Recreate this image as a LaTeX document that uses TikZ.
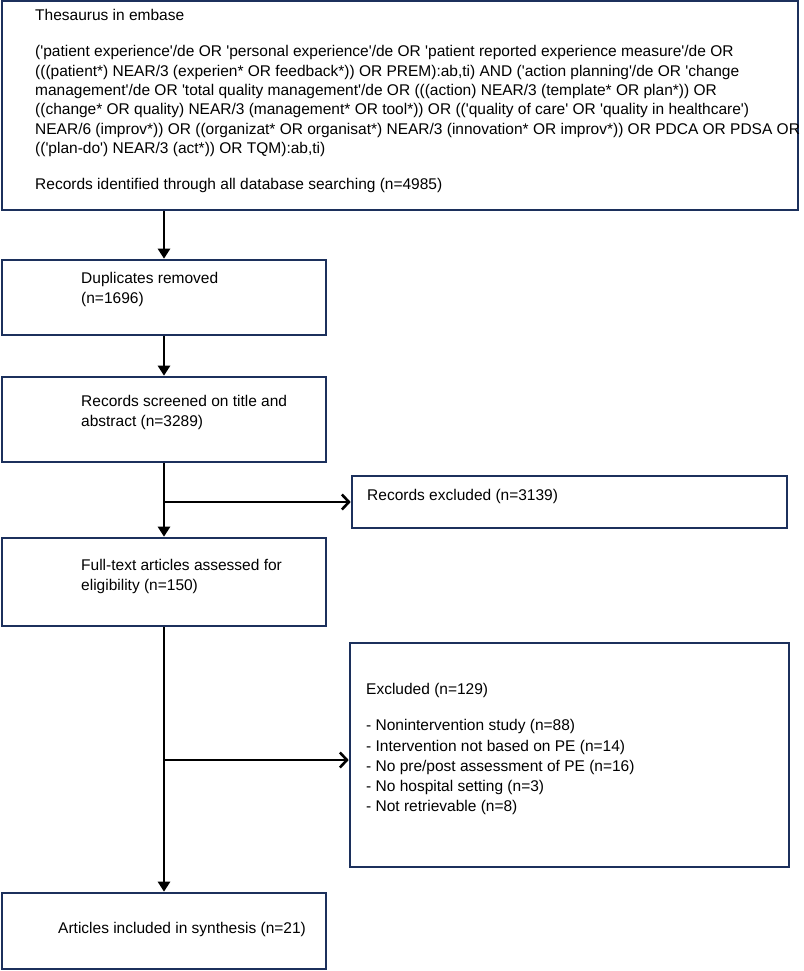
\documentclass[tikz,border=0pt]{standalone}
\usepackage{fontspec}
\setmainfont{Liberation Sans}[Ligatures=TeXOff]
\usetikzlibrary{arrows.meta}
\definecolor{boxblue}{RGB}{28,48,92}
\tikzset{
  box/.style={draw=boxblue, line width=2.6pt, inner sep=0pt},
  txt/.style={font=\fontsize{15.5}{19.3}\selectfont, inner sep=0pt, align=left, anchor=north west},
  smalltxt/.style={txt, font=\fontsize{15.5}{20.5}\selectfont},
  down/.style={-{Triangle[width=12pt,length=10pt]}, line width=2.8pt},
  side/.style={-{Straight Barb[length=7pt,width=15pt]}, line width=2.6pt}
}

\begin{document}
\begin{tikzpicture}[x=1pt,y=-1pt]
\useasboundingbox (0,0) rectangle (803,971);
\def\colx{164};
\def\colw{324pt};

% main column
\node[box, minimum width=796pt, minimum height=209pt] (search) at (400,105.5) {};
\node[box, minimum width=\colw, minimum height=75pt] (dup) at (\colx,297.5) {};
\node[box, minimum width=\colw, minimum height=85pt] (screen) at (\colx,419.5) {};
\node[box, minimum width=\colw, minimum height=88pt] (fulltext) at (\colx,582) {};
\node[box, minimum width=\colw, minimum height=76pt] (incl) at (\colx,931) {};
% side boxes
\node[box, minimum width=435pt, minimum height=52pt] (recexcl) at (569.5,502) {};
\node[box, minimum width=439pt, minimum height=224pt] (excl) at (569.5,755) {};

% texts
\node[txt] (searchtxt) at (35,9.5) {Thesaurus in embase\\[16.7pt]
('patient experience'/de OR 'personal experience'/de OR 'patient reported experience measure'/de OR\\
(((patient*) NEAR/3 (experien* OR feedback*)) OR PREM):ab,ti) AND ('action planning'/de OR 'change\\
management'/de OR 'total quality management'/de OR (((action) NEAR/3 (template* OR plan*)) OR\\
((change* OR quality) NEAR/3 (management* OR tool*)) OR (('quality of care' OR 'quality in healthcare')\\
NEAR/6 (improv*)) OR ((organizat* OR organisat*) NEAR/3 (innovation* OR improv*)) OR PDCA OR PDSA OR\\
(('plan-do') NEAR/3 (act*)) OR TQM):ab,ti)\\[16.7pt]
Records identified through all database searching (n=4985)};
\node[smalltxt] (duptxt) at (81,272) {Duplicates removed\\(n=1696)};
\node[smalltxt] (screentxt) at (81,395) {Records screened on title and\\abstract (n=3289)};
\node[smalltxt] (fulltxt) at (81,559) {Full-text articles assessed for\\eligibility (n=150)};
\node[smalltxt] (incltxt) at (58,922) {Articles included in synthesis (n=21)};
\node[smalltxt] (recexcltxt) at (367,489) {Records excluded (n=3139)};
\node[smalltxt] (excltxt) at (366,683) {Excluded (n=129)};
\foreach \reason [count=\i] in {Nonintervention study (n=88), Intervention not based on PE (n=14),
  No pre/post assessment of PE (n=16), No hospital setting (n=3), Not retrievable (n=8)}{
  \node[smalltxt] (reason\i) at (366, 699 + 20.3*\i) {- \reason};
}

% arrows
\coordinate (split1) at (\colx,502);
\coordinate (split2) at (\colx,760);
\draw[down] (search.south -| dup.north) -- (dup.north);
\draw[down] (dup) -- (screen);
\draw[down] (screen) -- (fulltext);
\draw[down] (fulltext) -- (incl);
\draw[side] (split1) -- (recexcl.west);
\draw[side] (split2) -- (split2 -| excl.west);
\end{tikzpicture}
\end{document}
